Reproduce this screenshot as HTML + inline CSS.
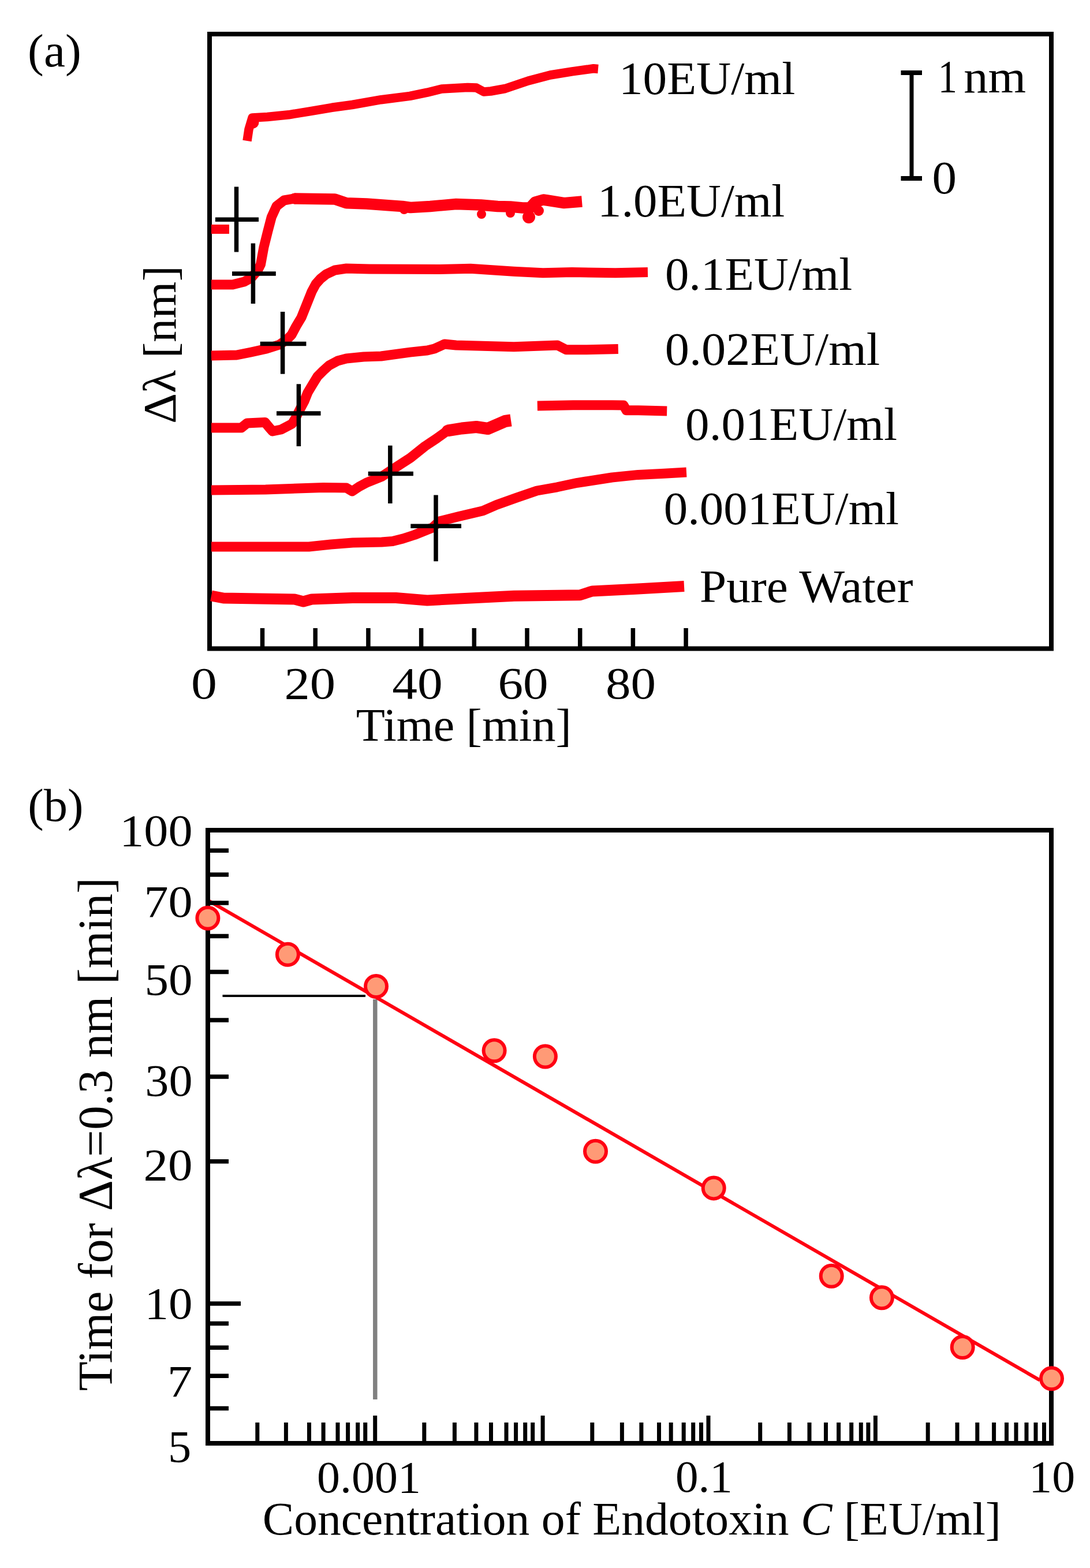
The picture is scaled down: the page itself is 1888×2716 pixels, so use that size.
<!DOCTYPE html>
<html><head><meta charset="utf-8"><style>
html,body{margin:0;padding:0;background:#fff;}
svg{display:block;}
text{font-family:"Liberation Serif","Times New Roman",serif;fill:#000;}
</style></head><body>
<svg width="1888" height="2716" viewBox="0 0 1888 2716">
<rect width="1888" height="2716" fill="#fff"/>
<text transform="translate(48.1 115.4) scale(1.0429 1)" font-size="80">(a)</text>
<rect x="363" y="59" width="1458" height="1064.5" fill="none" stroke="#000" stroke-width="8"/>
<line x1="454.5" y1="1088" x2="454.5" y2="1123" stroke="#000" stroke-width="7.5" stroke-linecap="butt"/>
<line x1="546.2" y1="1088" x2="546.2" y2="1123" stroke="#000" stroke-width="7.5" stroke-linecap="butt"/>
<line x1="637.9000000000001" y1="1088" x2="637.9000000000001" y2="1123" stroke="#000" stroke-width="7.5" stroke-linecap="butt"/>
<line x1="729.6" y1="1088" x2="729.6" y2="1123" stroke="#000" stroke-width="7.5" stroke-linecap="butt"/>
<line x1="821.3" y1="1088" x2="821.3" y2="1123" stroke="#000" stroke-width="7.5" stroke-linecap="butt"/>
<line x1="913.0" y1="1088" x2="913.0" y2="1123" stroke="#000" stroke-width="7.5" stroke-linecap="butt"/>
<line x1="1004.7" y1="1088" x2="1004.7" y2="1123" stroke="#000" stroke-width="7.5" stroke-linecap="butt"/>
<line x1="1096.4" y1="1088" x2="1096.4" y2="1123" stroke="#000" stroke-width="7.5" stroke-linecap="butt"/>
<line x1="1188.1000000000001" y1="1088" x2="1188.1000000000001" y2="1123" stroke="#000" stroke-width="7.5" stroke-linecap="butt"/>
<text transform="translate(330.9 1210.0) scale(1.1363 1)" font-size="79">0</text>
<text transform="translate(492.4 1210.0) scale(1.1227 1)" font-size="79">20</text>
<text transform="translate(679.3 1210.0) scale(1.1064 1)" font-size="79">40</text>
<text transform="translate(862.5 1210.0) scale(1.1030 1)" font-size="79">60</text>
<text transform="translate(1049.0 1210.0) scale(1.1025 1)" font-size="79">80</text>
<text transform="translate(616.8 1283.0) scale(1.0131 1)" font-size="81">Time [min]</text>
<text transform="translate(303.6 733.9) rotate(-90) scale(1.0303 1)" font-size="80">Δλ [nm]</text>
<text transform="translate(1071.9 163.0) scale(1.0414 1)" font-size="80">10EU/ml</text>
<text transform="translate(1035.0 374.7) scale(1.0354 1)" font-size="80">1.0EU/ml</text>
<text transform="translate(1151.9 502.0) scale(1.0356 1)" font-size="80">0.1EU/ml</text>
<text transform="translate(1151.8 632.4) scale(1.0544 1)" font-size="80">0.02EU/ml</text>
<text transform="translate(1187.1 762.0) scale(1.0387 1)" font-size="80">0.01EU/ml</text>
<text transform="translate(1149.7 908.0) scale(1.0360 1)" font-size="80">0.001EU/ml</text>
<text transform="translate(1211.8 1042.8) scale(1.0438 1)" font-size="80">Pure Water</text>
<line x1="1579" y1="126" x2="1579" y2="309" stroke="#000" stroke-width="7" stroke-linecap="butt"/>
<line x1="1560.5" y1="126" x2="1597" y2="126" stroke="#000" stroke-width="8" stroke-linecap="butt"/>
<line x1="1560.5" y1="309" x2="1597" y2="309" stroke="#000" stroke-width="8" stroke-linecap="butt"/>
<text transform="translate(1624.7 160.3) scale(0.8310 1)" font-size="80">1</text>
<text transform="translate(1669.3 160.3) scale(1.0542 1)" font-size="80">nm</text>
<text transform="translate(1614.4 335.0) scale(1.0640 1)" font-size="80">0</text>
<path d="M428.0 244.0 L431.0 224.0 L437.0 204.0 L463.0 202.5 L500.0 198.8 L538.0 192.6 L575.0 186.3 L610.0 181.5 L660.0 172.7 L710.0 166.4 L740.0 160.2 L765.0 154.0 L810.0 151.4 L825.0 152.0 L838.0 159.0 L850.0 158.0 L875.0 153.5 L915.0 140.0 L953.0 130.0 L991.0 123.9 L1028.0 118.8 L1036.0 119.5" fill="none" stroke="#ff0012" stroke-width="15.5" stroke-linejoin="round" stroke-linecap="butt"/>
<circle cx="438" cy="212" r="10.5" fill="#ff0012"/>
<rect x="366" y="389" width="31" height="16" fill="#ff0012"/>
<path d="M366.0 493.0 L403.0 493.0 L423.0 488.0 L435.0 481.6 L446.5 468.0 L451.5 458.0 L457.0 428.0 L464.0 400.0 L470.3 376.0 L479.0 357.0 L492.0 347.0 L510.0 344.0" fill="none" stroke="#ff0012" stroke-width="17" stroke-linejoin="round" stroke-linecap="butt"/>
<path d="M510.0 344.0 L580.0 345.0 L600.0 351.7 L635.0 353.0 L676.0 356.0 L697.0 357.5 L711.0 359.5 L745.0 357.5 L790.0 353.5 L833.0 355.0 L862.0 357.5 L884.0 358.0 L905.0 360.0 L918.0 360.0 L927.0 350.0 L941.0 346.0 L948.0 347.0 L977.0 351.6 L1008.0 349.0" fill="none" stroke="#ff0012" stroke-width="19.5" stroke-linejoin="round" stroke-linecap="butt"/>
<circle cx="510" cy="344" r="9.5" fill="#ff0012"/>
<circle cx="834" cy="371" r="8" fill="#ff0012"/>
<circle cx="884" cy="369" r="8" fill="#ff0012"/>
<circle cx="916" cy="376" r="11" fill="#ff0012"/>
<circle cx="933" cy="365" r="9" fill="#ff0012"/>
<circle cx="700" cy="363" r="8" fill="#ff0012"/>
<path d="M366.0 616.0 L410.0 615.0 L435.0 610.0 L462.0 604.0 L484.0 597.0 L497.0 588.0 L505.0 580.0 L513.0 565.0 L522.0 550.0 L528.0 535.0 L534.0 520.0 L540.0 505.0 L547.0 492.0 L555.0 483.0 L565.0 475.0 L580.0 468.0 L600.0 465.0 L640.0 466.0 L760.0 466.6 L815.0 465.3 L890.0 470.3 L940.5 472.8 L990.6 471.6 L1065.8 472.8 L1122.0 471.6" fill="none" stroke="#ff0012" stroke-width="17" stroke-linejoin="round" stroke-linecap="butt"/>
<path d="M366.0 741.0 L418.0 741.0 L428.0 733.0 L459.0 731.5 L466.0 740.0 L472.0 747.0 L487.0 744.0 L506.0 734.0 L512.0 724.0 L519.0 710.0 L527.0 695.0 L533.0 680.0 L542.0 665.0 L550.0 652.0 L560.0 642.0 L570.0 633.0 L585.0 625.0 L600.0 621.0 L630.0 618.0 L660.0 617.0 L710.4 610.1 L740.0 607.0 L752.5 604.0 L770.0 596.0 L790.0 598.0 L890.0 600.7 L965.6 598.0 L980.6 605.7 L1015.7 605.7 L1070.8 604.4" fill="none" stroke="#ff0012" stroke-width="17" stroke-linejoin="round" stroke-linecap="butt"/>
<path d="M366.0 849.0 L460.0 848.0 L560.0 844.5 L600.0 845.0 L610.0 851.0 L622.0 843.0 L636.0 835.6 L661.0 825.6 L676.0 815.6 L711.0 793.0 L736.0 773.0 L755.0 760.4 L775.0 746.0" fill="none" stroke="#ff0012" stroke-width="17" stroke-linejoin="round" stroke-linecap="butt"/>
<path d="M775.0 746.0 L800.0 742.0 L825.0 739.5 L845.0 742.5 L860.0 736.0 L875.0 729.5 L885.0 728.0" fill="none" stroke="#ff0012" stroke-width="21" stroke-linejoin="round" stroke-linecap="butt"/>
<circle cx="775" cy="746" r="10" fill="#ff0012"/>
<path d="M930.8 702.9 L992.8 701.7 L1060.5 701.7 L1080.0 702.0 L1085.0 710.8 L1105.6 710.8 L1155.2 711.9" fill="none" stroke="#ff0012" stroke-width="17" stroke-linejoin="round" stroke-linecap="butt"/>
<path d="M366.0 947.0 L535.0 947.0 L573.0 943.0 L611.0 940.0 L661.0 939.0 L680.0 937.5 L698.0 933.0 L718.0 926.5 L749.0 914.0 L761.0 903.0 L795.0 894.5 L836.5 884.8 L860.0 874.5 L895.0 862.0 L930.0 850.0 L965.0 843.8 L1000.0 836.3 L1015.0 834.0 L1060.0 827.0 L1105.0 822.4 L1150.0 820.2 L1189.0 818.0" fill="none" stroke="#ff0012" stroke-width="17" stroke-linejoin="round" stroke-linecap="butt"/>
<path d="M366.0 1032.0 L387.0 1036.0 L510.0 1038.0 L525.4 1042.0 L540.0 1038.0 L610.6 1035.5 L685.8 1035.5 L740.0 1040.0 L800.0 1036.7 L890.4 1032.2 L1004.7 1030.7 L1025.7 1024.0 L1101.0 1020.2 L1185.0 1015.6" fill="none" stroke="#ff0012" stroke-width="19" stroke-linejoin="round" stroke-linecap="butt"/>
<path d="M409.5 323.5V436.6M372.9 380.2H448" stroke="#000" stroke-width="7.5" fill="none"/>
<path d="M438.4 421.5V526M402 474H477.8" stroke="#000" stroke-width="7.5" fill="none"/>
<path d="M489.6 540V647.7M450.7 595.5H530.4" stroke="#000" stroke-width="7.5" fill="none"/>
<path d="M517.4 665.2V773M479 716H555.5" stroke="#000" stroke-width="7.5" fill="none"/>
<path d="M675.8 771.7V872M637.7 820.6H715.9" stroke="#000" stroke-width="7.5" fill="none"/>
<path d="M755 857.6V972.3M711.3 911.2H799" stroke="#000" stroke-width="7.5" fill="none"/>
<text transform="translate(48.2 1421.5) scale(1.0312 1)" font-size="80">(b)</text>
<line x1="385.5" y1="1725" x2="633" y2="1725" stroke="#000" stroke-width="4" stroke-linecap="butt"/>
<line x1="649.8" y1="1731" x2="649.8" y2="2424" stroke="#808080" stroke-width="7.5" stroke-linecap="butt"/>
<line x1="359.9" y1="1559.3" x2="1801" y2="2390.7" stroke="#ff0012" stroke-width="6" stroke-linecap="butt"/>
<rect x="360" y="1438" width="1461" height="1062" fill="none" stroke="#000" stroke-width="8"/>
<line x1="360" y1="1473.2" x2="396" y2="1473.2" stroke="#000" stroke-width="7.5" stroke-linecap="butt"/>
<line x1="360" y1="1515" x2="396" y2="1515" stroke="#000" stroke-width="7.5" stroke-linecap="butt"/>
<line x1="360" y1="1564" x2="396" y2="1564" stroke="#000" stroke-width="7.5" stroke-linecap="butt"/>
<line x1="360" y1="1621.6" x2="396" y2="1621.6" stroke="#000" stroke-width="7.5" stroke-linecap="butt"/>
<line x1="360" y1="1683.5" x2="396" y2="1683.5" stroke="#000" stroke-width="7.5" stroke-linecap="butt"/>
<line x1="360" y1="1767" x2="396" y2="1767" stroke="#000" stroke-width="7.5" stroke-linecap="butt"/>
<line x1="360" y1="1865" x2="396" y2="1865" stroke="#000" stroke-width="7.5" stroke-linecap="butt"/>
<line x1="360" y1="2011.7" x2="396" y2="2011.7" stroke="#000" stroke-width="7.5" stroke-linecap="butt"/>
<line x1="360" y1="2292.4" x2="396" y2="2292.4" stroke="#000" stroke-width="7.5" stroke-linecap="butt"/>
<line x1="360" y1="2334.2" x2="396" y2="2334.2" stroke="#000" stroke-width="7.5" stroke-linecap="butt"/>
<line x1="360" y1="2383.3" x2="396" y2="2383.3" stroke="#000" stroke-width="7.5" stroke-linecap="butt"/>
<line x1="360" y1="2439.5" x2="396" y2="2439.5" stroke="#000" stroke-width="7.5" stroke-linecap="butt"/>
<line x1="360" y1="2258" x2="417" y2="2258" stroke="#000" stroke-width="7.5" stroke-linecap="butt"/>
<line x1="445.8" y1="2464" x2="445.8" y2="2500" stroke="#000" stroke-width="7" stroke-linecap="butt"/>
<line x1="495.4" y1="2464" x2="495.4" y2="2500" stroke="#000" stroke-width="7" stroke-linecap="butt"/>
<line x1="535.5" y1="2464" x2="535.5" y2="2500" stroke="#000" stroke-width="7" stroke-linecap="butt"/>
<line x1="560.1" y1="2464" x2="560.1" y2="2500" stroke="#000" stroke-width="7" stroke-linecap="butt"/>
<line x1="585" y1="2464" x2="585" y2="2500" stroke="#000" stroke-width="7" stroke-linecap="butt"/>
<line x1="602.6" y1="2464" x2="602.6" y2="2500" stroke="#000" stroke-width="7" stroke-linecap="butt"/>
<line x1="619.7" y1="2464" x2="619.7" y2="2500" stroke="#000" stroke-width="7" stroke-linecap="butt"/>
<line x1="632.7" y1="2464" x2="632.7" y2="2500" stroke="#000" stroke-width="7" stroke-linecap="butt"/>
<line x1="734.8" y1="2464" x2="734.8" y2="2500" stroke="#000" stroke-width="7" stroke-linecap="butt"/>
<line x1="787.4" y1="2464" x2="787.4" y2="2500" stroke="#000" stroke-width="7" stroke-linecap="butt"/>
<line x1="824.9" y1="2464" x2="824.9" y2="2500" stroke="#000" stroke-width="7" stroke-linecap="butt"/>
<line x1="850.5" y1="2464" x2="850.5" y2="2500" stroke="#000" stroke-width="7" stroke-linecap="butt"/>
<line x1="877" y1="2464" x2="877" y2="2500" stroke="#000" stroke-width="7" stroke-linecap="butt"/>
<line x1="893.6" y1="2464" x2="893.6" y2="2500" stroke="#000" stroke-width="7" stroke-linecap="butt"/>
<line x1="909.7" y1="2464" x2="909.7" y2="2500" stroke="#000" stroke-width="7" stroke-linecap="butt"/>
<line x1="922.7" y1="2464" x2="922.7" y2="2500" stroke="#000" stroke-width="7" stroke-linecap="butt"/>
<line x1="1025.8" y1="2464" x2="1025.8" y2="2500" stroke="#000" stroke-width="7" stroke-linecap="butt"/>
<line x1="1077.4" y1="2464" x2="1077.4" y2="2500" stroke="#000" stroke-width="7" stroke-linecap="butt"/>
<line x1="1110.9" y1="2464" x2="1110.9" y2="2500" stroke="#000" stroke-width="7" stroke-linecap="butt"/>
<line x1="1141.5" y1="2464" x2="1141.5" y2="2500" stroke="#000" stroke-width="7" stroke-linecap="butt"/>
<line x1="1162.2" y1="2464" x2="1162.2" y2="2500" stroke="#000" stroke-width="7" stroke-linecap="butt"/>
<line x1="1184.2" y1="2464" x2="1184.2" y2="2500" stroke="#000" stroke-width="7" stroke-linecap="butt"/>
<line x1="1200.7" y1="2464" x2="1200.7" y2="2500" stroke="#000" stroke-width="7" stroke-linecap="butt"/>
<line x1="1214.5" y1="2464" x2="1214.5" y2="2500" stroke="#000" stroke-width="7" stroke-linecap="butt"/>
<line x1="1316.7" y1="2464" x2="1316.7" y2="2500" stroke="#000" stroke-width="7" stroke-linecap="butt"/>
<line x1="1367.4" y1="2464" x2="1367.4" y2="2500" stroke="#000" stroke-width="7" stroke-linecap="butt"/>
<line x1="1402" y1="2464" x2="1402" y2="2500" stroke="#000" stroke-width="7" stroke-linecap="butt"/>
<line x1="1430.5" y1="2464" x2="1430.5" y2="2500" stroke="#000" stroke-width="7" stroke-linecap="butt"/>
<line x1="1452.6" y1="2464" x2="1452.6" y2="2500" stroke="#000" stroke-width="7" stroke-linecap="butt"/>
<line x1="1474.7" y1="2464" x2="1474.7" y2="2500" stroke="#000" stroke-width="7" stroke-linecap="butt"/>
<line x1="1491.3" y1="2464" x2="1491.3" y2="2500" stroke="#000" stroke-width="7" stroke-linecap="butt"/>
<line x1="1503.9" y1="2464" x2="1503.9" y2="2500" stroke="#000" stroke-width="7" stroke-linecap="butt"/>
<line x1="1607.2" y1="2464" x2="1607.2" y2="2500" stroke="#000" stroke-width="7" stroke-linecap="butt"/>
<line x1="1658" y1="2464" x2="1658" y2="2500" stroke="#000" stroke-width="7" stroke-linecap="butt"/>
<line x1="1692.8" y1="2464" x2="1692.8" y2="2500" stroke="#000" stroke-width="7" stroke-linecap="butt"/>
<line x1="1721.6" y1="2464" x2="1721.6" y2="2500" stroke="#000" stroke-width="7" stroke-linecap="butt"/>
<line x1="1743.5" y1="2464" x2="1743.5" y2="2500" stroke="#000" stroke-width="7" stroke-linecap="butt"/>
<line x1="1760" y1="2464" x2="1760" y2="2500" stroke="#000" stroke-width="7" stroke-linecap="butt"/>
<line x1="1778" y1="2464" x2="1778" y2="2500" stroke="#000" stroke-width="7" stroke-linecap="butt"/>
<line x1="1794" y1="2464" x2="1794" y2="2500" stroke="#000" stroke-width="7" stroke-linecap="butt"/>
<line x1="1808.5" y1="2464" x2="1808.5" y2="2500" stroke="#000" stroke-width="7" stroke-linecap="butt"/>
<line x1="649.7" y1="2452" x2="649.7" y2="2500" stroke="#000" stroke-width="7" stroke-linecap="butt"/>
<line x1="940.1" y1="2452" x2="940.1" y2="2500" stroke="#000" stroke-width="7" stroke-linecap="butt"/>
<line x1="1227" y1="2452" x2="1227" y2="2500" stroke="#000" stroke-width="7" stroke-linecap="butt"/>
<line x1="1516.4" y1="2452" x2="1516.4" y2="2500" stroke="#000" stroke-width="7" stroke-linecap="butt"/>
<text transform="translate(207.2 1465.3) scale(1.0659 1)" font-size="79">100</text>
<text transform="translate(249.4 1588.1) scale(1.0647 1)" font-size="79">70</text>
<text transform="translate(250.4 1722.7) scale(1.0516 1)" font-size="79">50</text>
<text transform="translate(251.3 1897.8) scale(1.0402 1)" font-size="79">30</text>
<text transform="translate(248.5 2044.1) scale(1.0773 1)" font-size="79">20</text>
<text transform="translate(250.4 2284.0) scale(1.0515 1)" font-size="79">10</text>
<text transform="translate(289.8 2418.6) scale(1.1002 1)" font-size="79">7</text>
<text transform="translate(291.0 2532.2) scale(1.0189 1)" font-size="79">5</text>
<text transform="translate(549.1 2585.4) scale(1.0121 1)" font-size="79">0.001</text>
<text transform="translate(1170.0 2584.2) scale(1.0017 1)" font-size="79">0.1</text>
<text transform="translate(1782.2 2584.2) scale(1.0127 1)" font-size="79">10</text>
<text transform="translate(454.7 2657.6) scale(1.0085 1)" font-size="81">Concentration of Endotoxin <tspan font-style="italic">C</tspan> [EU/ml]</text>
<text transform="translate(193.7 2409.2) rotate(-90) scale(0.9910 1)" font-size="84">Time for Δλ=0.3 nm [min]</text>
<circle cx="359.9" cy="1590.3" r="18.5" fill="#ff9a76" stroke="#ff0012" stroke-width="6"/>
<circle cx="498.4" cy="1653.2" r="18.5" fill="#ff9a76" stroke="#ff0012" stroke-width="6"/>
<circle cx="651.5" cy="1708.5" r="18.5" fill="#ff9a76" stroke="#ff0012" stroke-width="6"/>
<circle cx="856.1" cy="1819.8" r="18.5" fill="#ff9a76" stroke="#ff0012" stroke-width="6"/>
<circle cx="944.4" cy="1830" r="18.5" fill="#ff9a76" stroke="#ff0012" stroke-width="6"/>
<circle cx="1031.5" cy="1994.2" r="18.5" fill="#ff9a76" stroke="#ff0012" stroke-width="6"/>
<circle cx="1236.2" cy="2057.9" r="18.5" fill="#ff9a76" stroke="#ff0012" stroke-width="6"/>
<circle cx="1440.2" cy="2210.2" r="18.5" fill="#ff9a76" stroke="#ff0012" stroke-width="6"/>
<circle cx="1527.4" cy="2247.8" r="18.5" fill="#ff9a76" stroke="#ff0012" stroke-width="6"/>
<circle cx="1667.2" cy="2333.5" r="18.5" fill="#ff9a76" stroke="#ff0012" stroke-width="6"/>
<circle cx="1821.5" cy="2387.7" r="18.5" fill="#ff9a76" stroke="#ff0012" stroke-width="6"/>
</svg>
</body></html>
